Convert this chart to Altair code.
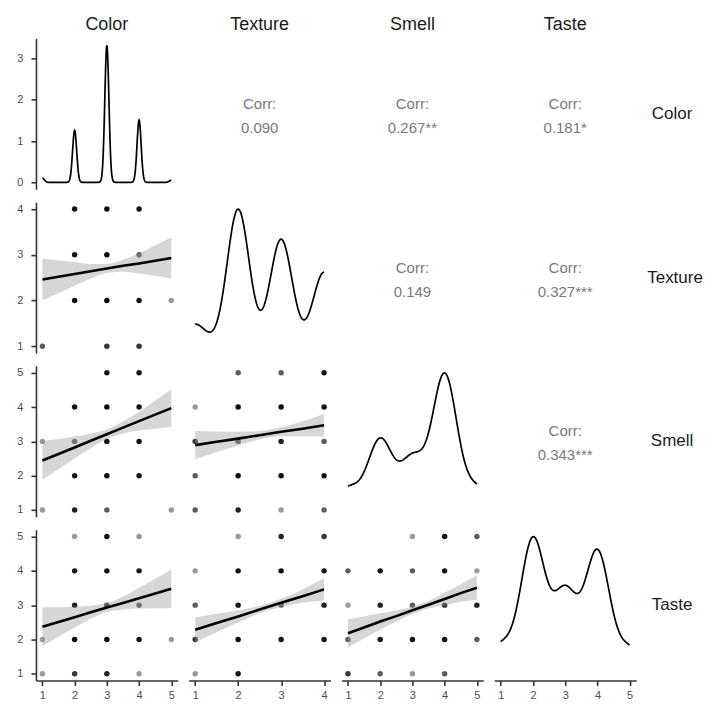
import altair as alt
import numpy as np
import pandas as pd

variables = ["Color", "Texture", "Smell", "Taste"]
color_levels = [1, 2, 3, 4, 5]
texture_levels = [1, 2, 3, 4]
smell_levels = [1, 2, 3, 4, 5]
taste_levels = [1, 2, 3, 4, 5]

# marginal counts (density on the diagonal is estimated from these)
color_counts = [2, 25, 66, 30, 1]
texture_counts = [8, 50, 39, 27]
smell_counts = [9, 29, 21, 56, 9]
taste_counts = [9, 43, 26, 39, 8]
bandwidths = [0.064, 0.256, 0.378, 0.377]

# correlation labels (upper triangle)
corr_color_texture = "0.090"
corr_color_smell = "0.267**"
corr_color_taste = "0.181*"
corr_texture_smell = "0.149"
corr_texture_taste = "0.327***"
corr_smell_taste = "0.343***"

# scatter points: (x level, y level, number of overlapping observations)
color_texture_points = [(2, 4, 5), (3, 4, 6), (4, 4, 5), (2, 3, 5), (3, 3, 6), (4, 3, 2),
                        (2, 2, 6), (3, 2, 8), (4, 2, 5), (5, 2, 1), (1, 1, 2), (3, 1, 3), (4, 1, 3)]
color_smell_points = [(3, 5, 5), (4, 5, 5), (2, 4, 5), (3, 4, 6), (4, 4, 5),
                      (1, 3, 1), (2, 3, 2), (3, 3, 5), (4, 3, 5), (2, 2, 5), (3, 2, 6), (4, 2, 5),
                      (1, 1, 1), (2, 1, 4), (3, 1, 2), (5, 1, 1)]
texture_smell_points = [(2, 5, 2), (3, 5, 2), (4, 5, 5), (1, 4, 1), (2, 4, 6), (3, 4, 6), (4, 4, 5),
                        (1, 3, 3), (2, 3, 2), (3, 3, 4), (4, 3, 2), (1, 2, 2), (2, 2, 6), (3, 2, 6),
                        (4, 2, 5), (1, 1, 2), (2, 1, 4), (3, 1, 1), (4, 1, 2)]
color_taste_points = [(2, 5, 1), (3, 5, 5), (4, 5, 1), (2, 4, 5), (3, 4, 6), (4, 4, 5),
                      (2, 3, 4), (3, 3, 3), (4, 3, 2), (1, 2, 1), (2, 2, 6), (3, 2, 6), (4, 2, 5),
                      (5, 2, 1), (1, 1, 1), (2, 1, 3), (3, 1, 4), (4, 1, 1)]
texture_taste_points = [(2, 5, 1), (3, 5, 4), (4, 5, 3), (1, 4, 1), (2, 4, 6), (3, 4, 6), (4, 4, 5),
                        (1, 3, 2), (2, 3, 5), (3, 3, 2), (4, 3, 4), (1, 2, 3), (2, 2, 6), (3, 2, 5),
                        (4, 2, 5), (1, 1, 1), (2, 1, 5)]
smell_taste_points = [(3, 5, 1), (4, 5, 5), (5, 5, 2), (1, 4, 2), (2, 4, 5), (3, 4, 2), (4, 4, 5),
                      (5, 4, 1), (1, 3, 1), (2, 3, 4), (3, 3, 2), (4, 3, 3), (5, 3, 4), (1, 2, 2),
                      (2, 2, 5), (3, 2, 5), (4, 2, 5), (5, 2, 2), (1, 1, 3), (2, 1, 2), (3, 1, 1),
                      (4, 1, 2)]

# linear fits with confidence band
fit_x_1to5 = [1, 1.5, 2, 2.5, 3, 3.5, 4, 4.5, 5]
fit_x_1to4 = [1, 1.5, 2, 2.5, 3, 3.5, 4]
color_texture_fit = [2.46, 2.52, 2.58, 2.64, 2.70, 2.76, 2.81, 2.87, 2.93]
color_texture_lo = [2.00, 2.16, 2.32, 2.48, 2.60, 2.63, 2.59, 2.54, 2.48]
color_texture_hi = [2.92, 2.88, 2.84, 2.80, 2.80, 2.89, 3.03, 3.21, 3.38]
color_smell_fit = [2.44, 2.63, 2.82, 3.02, 3.21, 3.40, 3.59, 3.78, 3.97]
color_smell_lo = [1.88, 2.19, 2.50, 2.81, 3.07, 3.23, 3.32, 3.37, 3.43]
color_smell_hi = [3.01, 3.07, 3.14, 3.23, 3.35, 3.58, 3.86, 4.19, 4.52]
texture_smell_fit = [2.89, 2.99, 3.08, 3.18, 3.28, 3.37, 3.47]
texture_smell_lo = [2.48, 2.69, 2.88, 3.06, 3.15, 3.15, 3.14]
texture_smell_hi = [3.30, 3.29, 3.28, 3.30, 3.41, 3.59, 3.80]
color_taste_fit = [2.37, 2.51, 2.65, 2.79, 2.93, 3.06, 3.20, 3.34, 3.48]
color_taste_lo = [1.80, 2.08, 2.35, 2.60, 2.80, 2.87, 2.90, 2.91, 2.92]
color_taste_hi = [2.94, 2.94, 2.96, 2.98, 3.06, 3.25, 3.51, 3.77, 4.04]
texture_taste_fit = [2.28, 2.48, 2.67, 2.87, 3.07, 3.26, 3.46]
texture_taste_lo = [1.91, 2.21, 2.49, 2.76, 2.95, 3.07, 3.13]
texture_taste_hi = [2.65, 2.75, 2.85, 2.98, 3.19, 3.46, 3.79]
smell_taste_fit = [2.18, 2.35, 2.52, 2.68, 2.85, 3.01, 3.18, 3.35, 3.51]
smell_taste_lo = [1.77, 2.03, 2.28, 2.52, 2.74, 2.90, 3.00, 3.10, 3.16]
smell_taste_hi = [2.59, 2.67, 2.76, 2.84, 2.96, 3.12, 3.36, 3.61, 3.87]

# ---------------------------------------------------------------- lookups
levels = [color_levels, texture_levels, smell_levels, taste_levels]
counts = [color_counts, texture_counts, smell_counts, taste_counts]
fit_xs = [fit_x_1to5, fit_x_1to4, fit_x_1to5, fit_x_1to5]
corr = {(0, 1): corr_color_texture, (0, 2): corr_color_smell, (0, 3): corr_color_taste,
        (1, 2): corr_texture_smell, (1, 3): corr_texture_taste, (2, 3): corr_smell_taste}
points = {(1, 0): color_texture_points, (2, 0): color_smell_points, (2, 1): texture_smell_points,
          (3, 0): color_taste_points, (3, 1): texture_taste_points, (3, 2): smell_taste_points}
fits = {(1, 0): (color_texture_fit, color_texture_lo, color_texture_hi),
        (2, 0): (color_smell_fit, color_smell_lo, color_smell_hi),
        (2, 1): (texture_smell_fit, texture_smell_lo, texture_smell_hi),
        (3, 0): (color_taste_fit, color_taste_lo, color_taste_hi),
        (3, 1): (texture_taste_fit, texture_taste_lo, texture_taste_hi),
        (3, 2): (smell_taste_fit, smell_taste_lo, smell_taste_hi)}

W, H = 142, 151
HGAP, VGAP = 11, 13
LABEL_W = 50
FONT = "Liberation Sans"


def lin_scale(k):
    lo, hi = levels[k][0], levels[k][-1]
    span = hi - lo
    return alt.Scale(domain=[lo - 0.05 * span, hi + 0.05 * span], nice=False, zero=False)


def lvl_axis(k):
    return alt.Axis(values=levels[k], format="d", title=None)


def enc_x(field, k, show):
    return alt.X(field, scale=lin_scale(k), axis=lvl_axis(k) if show else None)


def enc_y(field, k, show):
    return alt.Y(field, scale=lin_scale(k), axis=lvl_axis(k) if show else None)


def density_panel(i):
    df = pd.DataFrame({"value": np.repeat(levels[i], counts[i])})
    lo, hi = levels[i][0], levels[i][-1]
    yaxis = alt.Axis(values=[0, 1, 2, 3], title=None) if i == 0 else None
    return alt.Chart(df).transform_density(
        "value", as_=["value", "density"], bandwidth=bandwidths[i],
        extent=[lo, hi], steps=400
    ).mark_line(color="black", strokeWidth=1.7).encode(
        x=enc_x("value:Q", i, i == 3),
        y=alt.Y("density:Q",
                scale=alt.Scale(domain={"unionWith": [0]}, zero=False, nice=False, padding=6.9),
                axis=yaxis),
    ).properties(width=W, height=H)


def scatter_panel(i, j):
    pts = pd.DataFrame(points[(i, j)], columns=["x", "y", "n"])
    f, lo, hi = fits[(i, j)]
    fit = pd.DataFrame({"x": fit_xs[j], "fit": f, "lo": lo, "hi": hi})
    showx, showy = i == 3, j == 0
    p = alt.Chart(pts).transform_calculate(op="1 - pow(0.6, datum.n)").mark_circle(
        size=30, color="black").encode(
        x=enc_x("x:Q", j, showx), y=enc_y("y:Q", i, showy),
        opacity=alt.Opacity("op:Q", scale=None))
    band = alt.Chart(fit).mark_area(color="#999999", opacity=0.4, interpolate="monotone").encode(
        x=enc_x("x:Q", j, showx), y=enc_y("lo:Q", i, showy), y2="hi:Q")
    line = alt.Chart(fit).mark_line(color="black", strokeWidth=2.6).encode(
        x=enc_x("x:Q", j, showx), y=enc_y("fit:Q", i, showy))
    return alt.layer(p, band, line).properties(width=W, height=H)


def text_panel(i, j):
    df = pd.DataFrame({"t": ["Corr:\n" + corr[(i, j)]]})
    return alt.Chart(df).mark_text(
        lineBreak="\n", lineHeight=24, fontSize=15, color="#7a7a7a",
        align="center", baseline="middle").encode(
        text="t:N", x=alt.value(W / 2), y=alt.value(H / 2 - 10)
    ).properties(width=W, height=H)


def label_panel(i):
    df = pd.DataFrame({"t": [variables[i]]})
    return alt.Chart(df).mark_text(
        fontSize=17, color="#1a1a1a", align="center", baseline="middle").encode(
        text="t:N", x=alt.value(LABEL_W / 2), y=alt.value(H / 2)
    ).properties(width=LABEL_W, height=H)


rows = []
for i in range(4):
    cells = []
    for j in range(4):
        if i == j:
            c = density_panel(i)
        elif i > j:
            c = scatter_panel(i, j)
        else:
            c = text_panel(i, j)
        if i == 0:
            c = c.properties(title=variables[j])
        cells.append(c)
    lab = label_panel(i)
    if i == 0:
        lab = lab.properties(title=" ")
    cells.append(lab)
    rows.append(alt.hconcat(*cells, spacing=HGAP))

chart = alt.vconcat(*rows, spacing=VGAP).properties(
    padding={"left": 8, "top": 8, "right": 0, "bottom": 0}
).configure(font=FONT).configure_view(strokeWidth=0).configure_axis(
    grid=False, domainColor="#333333", domainWidth=1.6, tickColor="#333333",
    tickWidth=1.6, tickSize=5, labelColor="#4d4d4d", labelFontSize=11,
).configure_axisY(labelPadding=8).configure_axisX(labelPadding=4).configure_title(
    fontSize=18, fontWeight="normal", color="#1a1a1a", anchor="middle",
    frame="group", offset=4, baseline="alphabetic",
)

chart.save("out.html", embed_options={"renderer": "svg", "actions": False})
